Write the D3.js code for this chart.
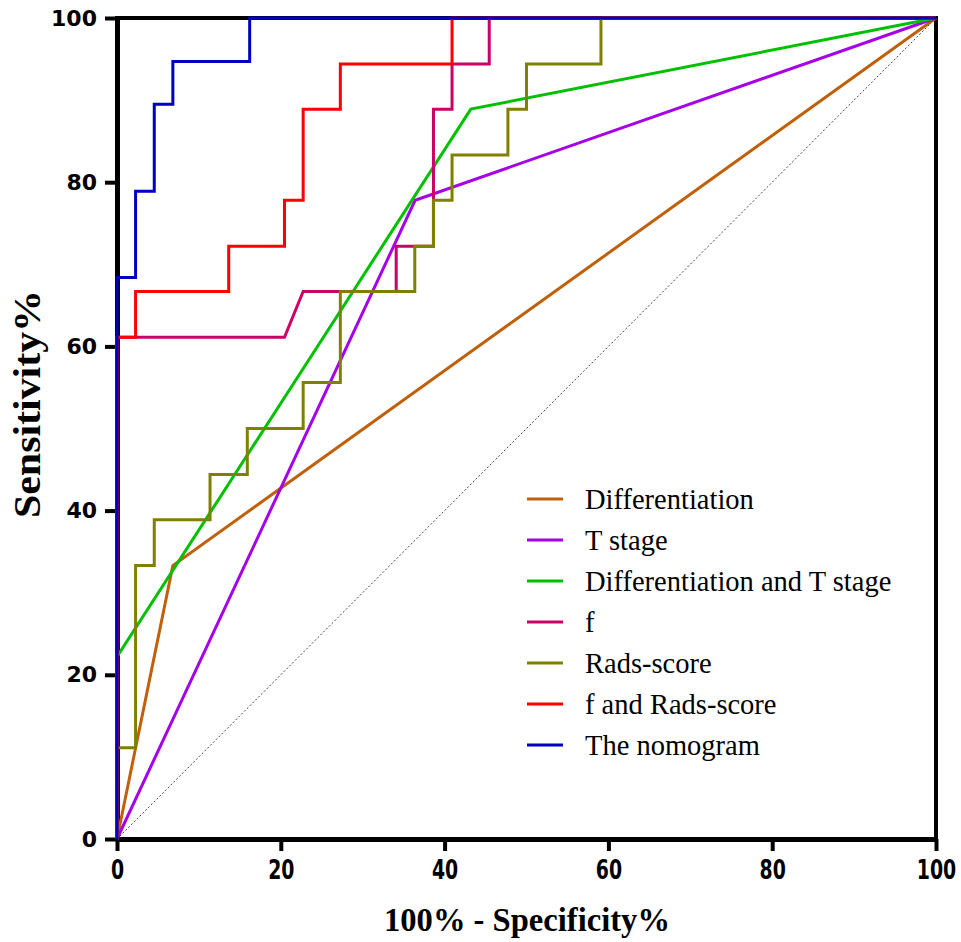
<!DOCTYPE html>
<html>
<head>
<meta charset="utf-8">
<script src="https://cdn.jsdelivr.net/npm/d3@7"></script>
<style>
  body { margin: 0; background: #fff; }
  .tick text { font-family: "DejaVu Sans", Arial, sans-serif; font-weight: bold; font-size: 22px; }
  .title { font-family: "Liberation Serif", "Times New Roman", serif; font-weight: bold; }
  .legend text { font-family: "Liberation Serif", "Times New Roman", serif; font-size: 28.5px; }
</style>
</head>
<body>
<svg id="chart"></svg>
<script>
// series names, in legend / draw order
const names = ['Differentiation', 'T stage', 'Differentiation and T stage', 'f', 'Rads-score', 'f and Rads-score', 'The nomogram'];
const colors = ['#C0600A', '#A500E8', '#00C000', '#CC0066', '#808000', '#FF0000', '#0000C0'];

// ROC points: 100% - specificity (x) and sensitivity (y)
const diffX = [0, 6.82, 100];
const diffY = [0, 33.3, 100];
const tstageX = [0, 36.4, 100];
const tstageY = [0, 77.8, 100];
const diffTX = [0, 0, 43.2, 100];
const diffTY = [0, 22.2, 88.9, 100];
const fX = [0, 0, 20.45, 22.73, 34.09, 34.09, 38.64, 38.64, 40.91, 40.91, 45.45, 45.45, 100];
const fY = [0, 61.1, 61.1, 66.7, 66.7, 72.2, 72.2, 88.9, 88.9, 94.4, 94.4, 100, 100];
const radsX = [0, 0, 2.27, 2.27, 4.55, 4.55, 11.36, 11.36, 15.91, 15.91, 22.73, 22.73, 27.27, 27.27, 36.36, 36.36, 38.64, 38.64, 40.91, 40.91, 47.73, 47.73, 50, 50, 59.09, 59.09, 100];
const radsY = [0, 11.1, 11.1, 33.3, 33.3, 38.9, 38.9, 44.4, 44.4, 50, 50, 55.6, 55.6, 66.7, 66.7, 72.2, 72.2, 77.8, 77.8, 83.3, 83.3, 88.9, 88.9, 94.4, 94.4, 100, 100];
const fRadsX = [0, 0, 2.27, 2.27, 13.64, 13.64, 20.45, 20.45, 22.73, 22.73, 27.27, 27.27, 40.91, 40.91, 100];
const fRadsY = [0, 61.1, 61.1, 66.7, 66.7, 72.2, 72.2, 77.8, 77.8, 88.9, 88.9, 94.4, 94.4, 100, 100];
const nomoX = [0, 0, 2.27, 2.27, 4.55, 4.55, 6.82, 6.82, 16.2, 16.2, 100];
const nomoY = [0, 68.4, 68.4, 78.9, 78.9, 89.5, 89.5, 94.7, 94.7, 100, 100];

const xTicks = [0, 20, 40, 60, 80, 100];
const yTicks = [0, 20, 40, 60, 80, 100];

const seriesX = [diffX, tstageX, diffTX, fX, radsX, fRadsX, nomoX];
const seriesY = [diffY, tstageY, diffTY, fY, radsY, fRadsY, nomoY];

const W = 961, H = 942;
const margin = {top: 18, right: 25, bottom: 103, left: 117},
  width = W - margin.left - margin.right,
  height = H - margin.top - margin.bottom;

const svg = d3.select('#chart')
  .attr('width', W)
  .attr('height', H);

const chart = svg.append('g')
  .attr('transform', `translate(${margin.left}, ${margin.top})`);

const x = d3.scaleLinear().domain([0, 100]).range([0, width]);
const y = d3.scaleLinear().domain([0, 100]).range([height, 0]);

// frame (top and right)
chart.append('rect')
  .attr('x', 0).attr('y', 0)
  .attr('width', width).attr('height', height)
  .attr('fill', 'none')
  .attr('stroke', '#000')
  .attr('stroke-width', 4);

const xAxis = chart.append('g')
  .attr('transform', `translate(0,${height})`)
  .call(d3.axisBottom(x).tickValues(xTicks).tickSize(12).tickPadding(10).tickSizeOuter(0));

const yAxis = chart.append('g')
  .call(d3.axisLeft(y).tickValues(yTicks).tickSize(12).tickPadding(8).tickSizeOuter(0));

[xAxis, yAxis].forEach(a => {
  a.select('.domain').attr('stroke', '#000').attr('stroke-width', 5);
  a.selectAll('.tick line').attr('stroke', '#000').attr('stroke-width', 4);
  a.selectAll('.tick text').attr('fill', '#000');
});
// x tick labels are narrower and taller than the y ones
xAxis.selectAll('.tick text')
  .style('font-size', '21px')
  .attr('y', 16)
  .attr('dy', '0.71em')
  .attr('transform', 'scale(0.9,1.3)');

// reference diagonal
chart.append('line')
  .attr('x1', x(0)).attr('y1', y(0))
  .attr('x2', x(100)).attr('y2', y(100))
  .attr('stroke', '#444')
  .attr('stroke-width', 1)
  .attr('stroke-dasharray', '2,2');

const line = d3.line()
  .x(d => x(d[0]))
  .y(d => y(d[1]));

names.forEach((n, i) => {
  const pts = seriesX[i].map((v, j) => [v, seriesY[i][j]]);
  chart.append('path')
    .datum(pts)
    .attr('d', line)
    .attr('fill', 'none')
    .attr('stroke', colors[i])
    .attr('stroke-width', 3)
    .attr('stroke-linejoin', 'miter');
});

// axis titles
svg.append('text')
  .attr('class', 'title')
  .attr('x', 527)
  .attr('y', 931)
  .attr('text-anchor', 'middle')
  .style('font-size', '34px')
  .attr('textLength', 286)
  .attr('lengthAdjust', 'spacingAndGlyphs')
  .text('100% - Specificity%');

svg.append('text')
  .attr('class', 'title')
  .attr('transform', 'translate(40, 404) rotate(-90)')
  .attr('text-anchor', 'middle')
  .style('font-size', '37px')
  .attr('textLength', 228)
  .attr('lengthAdjust', 'spacingAndGlyphs')
  .text('Sensitivity%');

// legend
const legend = svg.append('g').attr('class', 'legend');
names.forEach((n, i) => {
  const ly = 499 + i * 41;
  legend.append('line')
    .attr('x1', 527).attr('x2', 563)
    .attr('y1', ly).attr('y2', ly)
    .attr('stroke', colors[i])
    .attr('stroke-width', 3);
  legend.append('text')
    .attr('x', 585)
    .attr('y', ly + 10)
    .text(n);
});
</script>
</body>
</html>
